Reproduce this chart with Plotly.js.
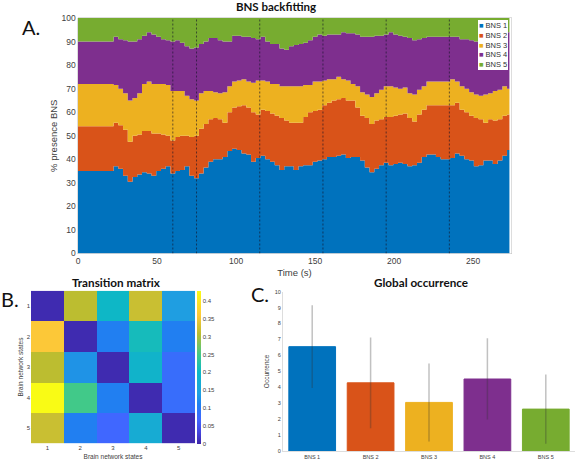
<!DOCTYPE html>
<html><head><meta charset="utf-8">
<script src="https://cdn.plot.ly/plotly-3.0.1.min.js"></script>
<style>html,body{margin:0;padding:0;background:#fff;overflow:hidden}</style>
</head><body><div id="chart" style="width:575px;height:464px"></div>
<script>
const stateNames = ["BNS 1","BNS 2","BNS 3","BNS 4","BNS 5"];
const stateColors = ["#0072BD","#D95319","#EDB120","#7E2F8E","#77AC30"];
const timeStepSeconds = 3;
const edgeBns1 = [35,35,35,35,35,35,35,35,37,36,33,30.5,32.5,33.5,34.5,34,33,35,36,37,34,35,35.5,37,33,32,34,36.5,39,40,40,41,43.5,44.5,44,42.5,42,39,40.5,41.5,40,39,37.5,35.5,37,37,35.5,37,37.5,37.5,39,39.5,40,41,41,41.5,42,40.5,41,41,39.5,36.5,34.5,36,37.5,38.5,37.5,38,38.5,38,37,37.5,38.5,41,42,42,41,40,40,40.5,42.5,41.5,40,39.5,37,37.5,39.5,39.5,38,39.5,41.5,44];
const edgeBns2 = [54,54,54,54,54,54,54,54,55.5,54.5,52.5,47.5,50,50.5,52,52,51,51,50.5,50,48,49.5,50,50,49.5,50,53,55,57,57.5,57,55.5,60,62,62.5,63,62,60,59,61,60.5,59.5,58.5,57.5,56.5,55.5,55.5,55.5,58,60,60.5,61,63,64,65,65.5,66,65,65,62,58.5,57.5,55,56.5,57,58,58,58.5,59,59.5,57.5,56,59,61,63,63,63,63,63,63,64,61,60,58.5,57.5,57,55.5,57,56.5,57,58.5,59];
const edgeBns3 = [72,72,72,72,72,72,72,72,71.5,70,68,65,66,68,72,73,72,72,72,71.5,69,69,69,67,65.5,65,68,69,69,68.5,68,68.5,71,73,73.5,74,73,72.5,73.5,73.5,73,72,72,71,71,71,71,71,71.5,71.5,73,73,73.5,74,74,75,74,73.5,72,71,68.5,67.5,66.5,68,69.5,71,71,70.5,70,70.5,68,67.5,69.5,71,73,73,73,73,73,74,73,71,70,68.5,67.5,67,67.5,68,69,69.5,71,70];
const edgeBns4 = [90,90,90,90,90,90,90,90,92,91,90.5,90,90,91,92.5,94,93,92,91,90.5,90,90.5,89.5,88,87,87.5,89,90,91.5,91.5,90.5,90,90,92.5,92.5,92,92,91.5,91,92,90,89,89,87,86.5,88,88.5,89,89.5,90.5,92,93,92.5,93,93,93,94,93.5,93.5,93,92,92,92,92.5,92.5,93,94,93,92.5,92,91.5,90.5,91,91.5,92,92,92,92,92,92,92,91,91,90.5,90,91,91.5,92,92.5,93,93.5,94];
const fullScale = 100;
const dashedTimes = [60,75,115,155,195,235];
const transitionStates = [1,2,3,4,5];
const transitionRow1 = [0.005,0.31,0.20,0.32,0.14];
const transitionRow2 = [0.36,0.005,0.11,0.21,0.11];
const transitionRow3 = [0.31,0.13,0.005,0.19,0.08];
const transitionRow4 = [0.43,0.25,0.11,0.005,0.08];
const transitionRow5 = [0.32,0.11,0.07,0.17,0.005];
const occurrenceMean = [6.55,4.28,3.05,4.52,2.63];
const occurrenceSd = [2.6,2.85,2.45,2.55,2.17];

const W = 575, H = 464;
const times = edgeBns1.map((_, i) => i * timeStepSeconds);
const edges = [edgeBns1, edgeBns2, edgeBns3, edgeBns4, times.map(() => fullScale)];
const textCol = "#404040";
const bodyFont = "Liberation Sans";
const headFont = "Lato";

const traces = edges.map((y, i) => ({
  type: "scatter", mode: "lines", x: times, y: y, name: stateNames[i],
  line: {shape: "hvh", width: 0, color: stateColors[i]},
  fill: i === 0 ? "tozeroy" : "tonexty", fillcolor: stateColors[i],
  showlegend: false, xaxis: "x", yaxis: "y"
}));

traces.push({
  type: "heatmap", x: transitionStates, y: transitionStates,
  z: [transitionRow1, transitionRow2, transitionRow3, transitionRow4, transitionRow5],
  zmin: 0, zmax: 0.43, xaxis: "x2", yaxis: "y2",
  colorscale: [[0,"#3E26A8"],[0.08,"#4545E0"],[0.16,"#4166FF"],[0.26,"#2080F0"],[0.33,"#1FA0E0"],[0.47,"#0DB8C5"],[0.58,"#40C98A"],[0.72,"#BBBD30"],[0.84,"#FEC838"],[1,"#F9FB15"]],
  colorbar: {x: 196.5/W, xanchor: "left", xpad: 0, ypad: 0, thickness: 4, thicknessmode: "pixels",
    len: 152.6, lenmode: "pixels", y: 1-367/H, yanchor: "middle", outlinewidth: 0,
    tick0: 0, dtick: 0.05, ticks: "", tickformat: "~g",
    tickfont: {family: bodyFont, size: 6, color: textCol}}
});

traces.push({
  type: "bar", x: stateNames, y: occurrenceMean, xaxis: "x3", yaxis: "y3", width: 0.8,
  marker: {color: stateColors, line: {color: stateColors, width: 1}},
  error_y: {type: "data", array: occurrenceSd, visible: true, width: 0, thickness: 1.5, color: "rgba(50,50,50,0.3)"},
  showlegend: false
});

const legendText = stateNames.map((n, i) =>
  `<span style="color:${stateColors[i]}">■</span> ${n}`).join("<br>");

const note = (text, x, y, size) => ({
  text, x: x/W, y: 1-y/H, xref: "paper", yref: "paper", showarrow: false,
  xanchor: "center", yanchor: "middle", font: {family: headFont, size, color: "#111"}
});
const tick = size => ({family: bodyFont, size, color: textCol});

const layout = {
  width: W, height: H, margin: {l:0, r:0, t:0, b:0}, paper_bgcolor: "#fff", plot_bgcolor: "#fff",
  font: {family: bodyFont, color: textCol}, showlegend: false,
  title: {text: "<b>BNS backfitting</b>", x: 276/W, xanchor: "center", y: 1-7/H, yanchor: "middle",
    font: {family: headFont, size: 11.5, color: "#111"}},
  xaxis: {domain: [78/W, 511/W], range: [0, 274], anchor: "y", tick0: 0, dtick: 50, ticks: "",
    showgrid: false, zeroline: false, showline: true, mirror: true, linecolor: "#bbb", linewidth: 0.5, tickfont: tick(8.5),
    title: {text: "Time (s)", font: tick(9.5), standoff: 3}},
  yaxis: {domain: [1-253.5/H, 1-18/H], range: [0, 100], anchor: "x", dtick: 10, ticks: "",
    showgrid: false, zeroline: false, showline: true, mirror: true, linecolor: "#bbb", linewidth: 0.5, tickfont: tick(8.5),
    title: {text: "% presence BNS", font: tick(9.5), standoff: 2}},
  xaxis2: {domain: [31/W, 195/W], range: [0.5, 5.5], anchor: "y2", tickvals: transitionStates, ticks: "",
    showgrid: false, zeroline: false, tickfont: tick(6),
    title: {text: "Brain network states", font: tick(6.5), standoff: 4}},
  yaxis2: {domain: [1-443.3/H, 1-290.7/H], range: [5.5, 0.5], anchor: "x2", tickvals: transitionStates, ticks: "",
    showgrid: false, zeroline: false, tickfont: tick(6),
    title: {text: "Brain network states", font: tick(6.5), standoff: 2}},
  xaxis3: {domain: [283/W, 1], range: [-0.5, 4.5], anchor: "y3", type: "category", ticks: "",
    showgrid: false, zeroline: false, showline: true, linecolor: "#ddd", linewidth: 1, tickfont: tick(5.5)},
  yaxis3: {domain: [1-451/H, 1-291.7/H], range: [0, 10], anchor: "x3", dtick: 1, ticks: "",
    showgrid: false, zeroline: false, showline: true, linecolor: "#ddd", linewidth: 1, tickfont: tick(5.5),
    title: {text: "Occurrence", font: tick(6.5), standoff: 4}},
  shapes: dashedTimes.map(t => ({type: "line", xref: "x", yref: "y", x0: t, x1: t, y0: 0, y1: 100,
    line: {color: "rgba(20,20,40,0.8)", width: 0.8, dash: "2px,2px"}})),
  annotations: [
    note("A.", 31, 27, 20), note("B.", 10, 299, 20), note("C.", 260, 294, 20),
    note("<b>Transition matrix</b>", 116, 282, 11.7),
    note("<b>Global occurrence</b>", 421, 282, 11.7),
    {text: legendText, x: 508/W, y: 1-20/H, xref: "paper", yref: "paper", showarrow: false, align: "left",
     xanchor: "right", yanchor: "top", bgcolor: "#fff", borderpad: 1, borderwidth: 0,
     font: {family: bodyFont, size: 7.5, color: "#333"}}
  ]
};
Plotly.newPlot("chart", traces, layout, {displayModeBar: false, staticPlot: true});
</script></body></html>
